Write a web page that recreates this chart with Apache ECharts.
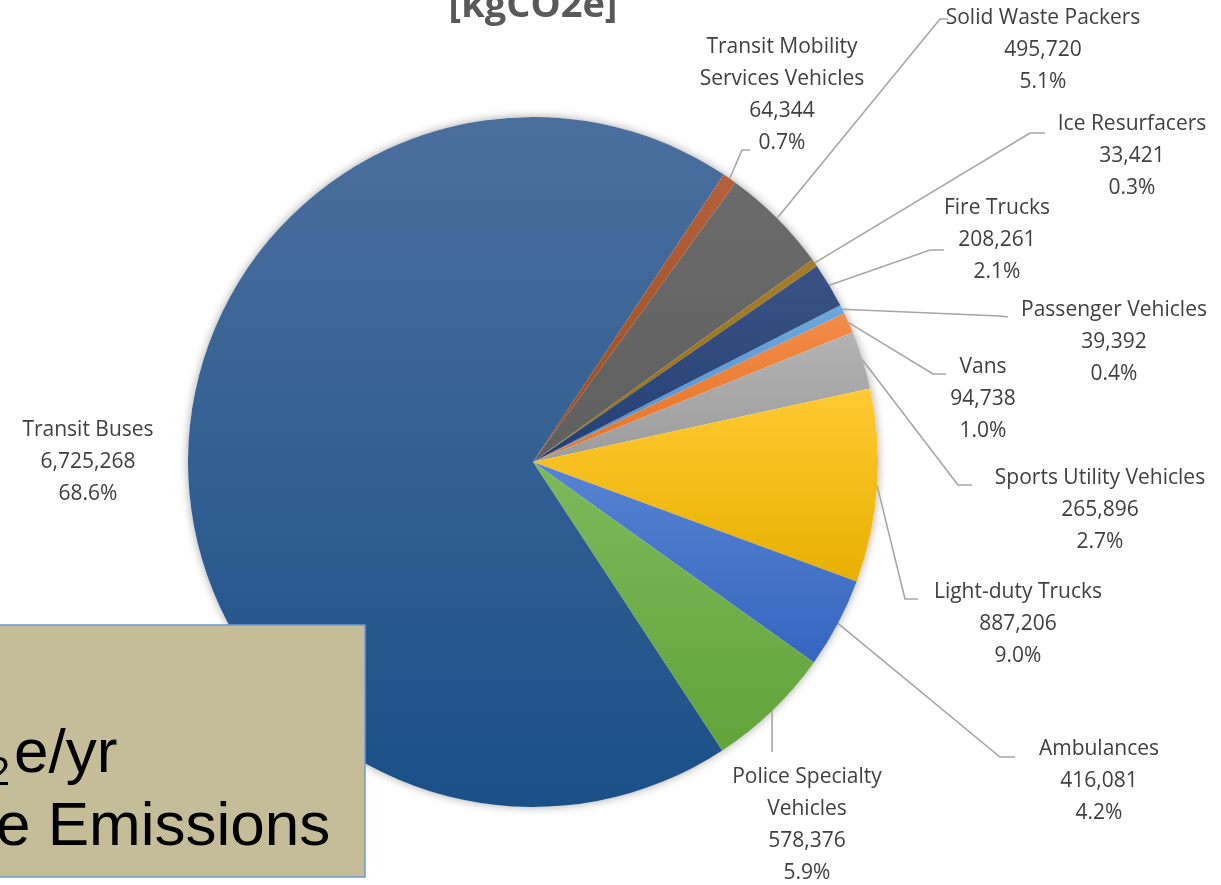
<!DOCTYPE html>
<html>
<head>
<meta charset="utf-8">
<script src="https://cdn.jsdelivr.net/npm/echarts@6/dist/echarts.min.js"></script>
<style>
html,body{margin:0;padding:0;background:#ffffff;}
#chart{width:1221px;height:885px;}
</style>
</head>
<body>
<div id="chart"></div>
<script>
// ---- data ----
const categories = [
  'Passenger Vehicles',
  'Vans',
  'Sports Utility Vehicles',
  'Light-duty Trucks',
  'Ambulances',
  'Police Specialty\nVehicles',
  'Transit Buses',
  'Transit Mobility\nServices Vehicles',
  'Solid Waste Packers',
  'Ice Resurfacers',
  'Fire Trucks'
];
const emissions = [39392, 94738, 265896, 887206, 416081, 578376, 6725268, 64344, 495720, 33421, 208261];
const titleText = '[kgCO2e]';
const boxLine1 = 'e/yr';
const boxSub = '2';
const boxLine2 = 'e Emissions';

// ---- styles ----
const colorTop = ['#6da7dd', '#f28c48', '#b3b3b3', '#ffca33', '#5783d2', '#7db95a', '#4b6f9d', '#b4603c', '#6b6b6b', '#a57d2a', '#3b5384'];
const colorBottom = ['#4f8fca', '#e57325', '#9c9c9c', '#e8b000', '#3566c0', '#62a33a', '#1a5088', '#a04c18', '#5f5f5f', '#94700a', '#223f74'];
// label layout: [centerX, centerY, elbowX, elbowY, endX, endY]  (null elbowX -> vertical from start)
const labelPlace = [
  [1114, 342, 1000, 316, 1008, 317],
  [983, 399, 933, 374, 946, 374],
  [1100, 510, 958, 485, 972, 485],
  [1018, 624, 905, 599, 918, 599],
  [1099, 781, 1000, 757, 1015, 757],
  [807, 825, null, 752, null, 752],
  [88, 462, null, null, null, null],
  [782, 95, 742, 150, 750, 150],
  [1043, 50, 940, 19, 948, 19],
  [1132, 156, 1030, 133, 1045, 133],
  [997, 240, 930, 250, 944, 250]
];

const total = emissions.reduce((a, b) => a + b, 0);
const CENTER = [533, 462];
const RADIUS = 345;

const chart = echarts.init(document.getElementById('chart'), null, {renderer: 'canvas'});

const pieData = categories.map((name, i) => ({
  name: name,
  value: emissions[i],
  itemStyle: {
    color: new echarts.graphic.LinearGradient(0, 0, 0, 1, [
      {offset: 0, color: colorTop[i]},
      {offset: 1, color: colorBottom[i]}
    ])
  },
  labelLine: {show: i !== 6}
}));

const option = {
  animation: false,
  backgroundColor: '#ffffff',
  series: [
    {
      type: 'pie',
      silent: true,
      z: 1,
      center: CENTER,
      radius: RADIUS,
      startAngle: 27,
      data: [{value: total, name: ''}],
      itemStyle: {color: '#ffffff', shadowBlur: 10, shadowColor: 'rgba(0,0,0,0.35)'},
      label: {show: false},
      labelLine: {show: false},
      emphasis: {disabled: true}
    },
    {
      type: 'pie',
      z: 2,
      center: CENTER,
      radius: RADIUS,
      startAngle: 27,
      clockwise: true,
      avoidLabelOverlap: false,
      data: pieData,
      itemStyle: {borderWidth: 0},
      label: {
        show: true,
        position: 'outer',
        fontFamily: 'Open Sans',
        fontSize: 21,
        lineHeight: 32,
        color: '#404040',
        align: 'center',
        formatter: function (p) {
          const pct = emissions[p.dataIndex] / total * 100;
          return p.name + '\n' + emissions[p.dataIndex].toLocaleString('en-US') + '\n' + pct.toFixed(1) + '%';
        }
      },
      labelLine: {
        show: true,
        length: 10,
        length2: 10,
        lineStyle: {color: '#a6a6a6', width: 1.6}
      },
      labelLayout: function (params) {
        const i = params.dataIndex;
        const L = labelPlace[i];
        const out = {x: L[0], y: L[1], align: 'center', verticalAlign: 'middle'};
        if (i !== 6 && params.labelLinePoints) {
          const s = params.labelLinePoints[0];
          const ex = L[2] === null ? s[0] : L[2];
          const tx = L[4] === null ? s[0] : L[4];
          out.labelLinePoints = [[s[0], s[1]], [ex, L[3]], [tx, L[5]]];
        }
        return out;
      },
      emphasis: {disabled: true}
    }
  ],
  graphic: [
    {
      type: 'text',
      z: 50,
      style: {
        text: titleText,
        x: 533, y: 6,
        align: 'center', verticalAlign: 'middle',
        fontFamily: 'Open Sans', fontWeight: 'bold', fontSize: 38,
        fill: '#595959'
      }
    },
    {
      type: 'rect',
      z: 100,
      shape: {x: -5, y: 625, width: 370, height: 252},
      style: {fill: '#c4bd97', stroke: '#6a9bd8', lineWidth: 1.5}
    },
    {
      type: 'text',
      z: 101,
      style: {
        text: boxSub, x: 10, y: 774, align: 'right', verticalAlign: 'middle',
        fontFamily: 'Liberation Sans', fontSize: 40, fill: '#000000'
      }
    },
    {
      type: 'text',
      z: 101,
      style: {
        text: boxLine1, x: 14, y: 755, align: 'left', verticalAlign: 'middle',
        fontFamily: 'Liberation Sans', fontSize: 62, fill: '#000000'
      }
    },
    {
      type: 'text',
      z: 101,
      style: {
        text: boxLine2, x: -4, y: 828, align: 'left', verticalAlign: 'middle',
        fontFamily: 'Liberation Sans', fontSize: 62, fill: '#000000'
      }
    }
  ]
};
chart.setOption(option);
</script>
</body>
</html>
